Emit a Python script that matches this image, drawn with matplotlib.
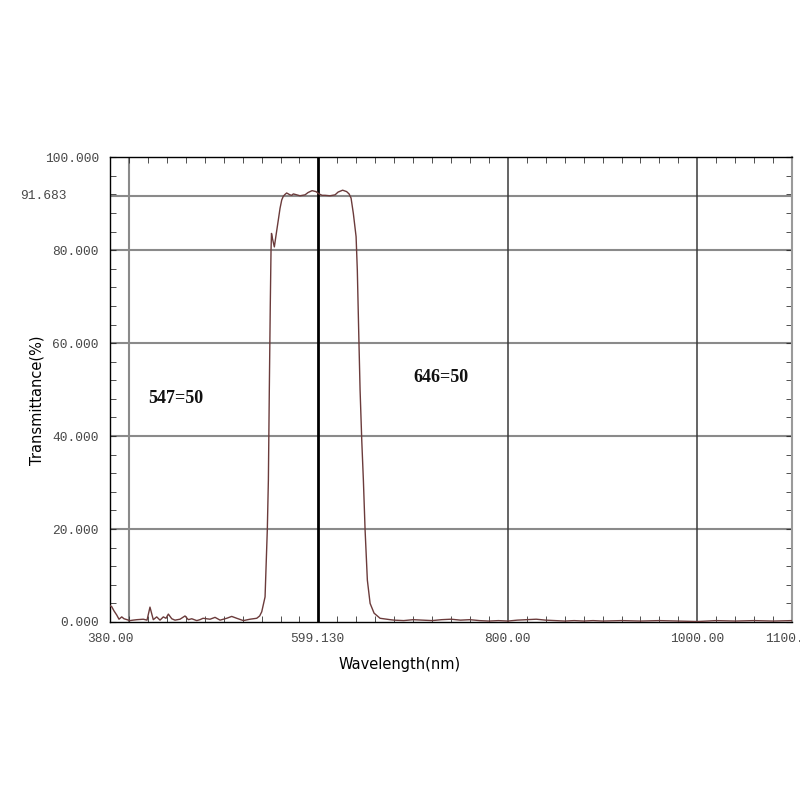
import matplotlib
matplotlib.use("Agg")
import matplotlib.pyplot as plt
import matplotlib.transforms as mtransforms
import numpy as np

# Transmission spectrum
wavelength = [
    380.0, 381.8, 384.2, 387.1, 389.5, 392.4, 394.8, 398.0, 401.1, 404.3,
    408.5, 415.2, 419.1, 422.2, 425.7, 429.3, 432.8, 436.3, 439.1, 441.6,
    445.2, 448.6, 453.9, 459.2, 462.7, 466.3, 471.6, 475.0, 478.2, 485.6,
    490.9, 496.2, 503.2, 508.5, 513.8, 520.8, 527.8, 534.9, 538.0, 540.2,
    543.7, 546.1, 547.2, 548.2, 549.2, 550.0, 550.5, 551.5, 553.5, 555.5,
    557.7, 559.5, 561.3, 563.0, 564.8, 566.5, 568.3, 570.0, 571.9, 573.5,
    575.4, 580.6, 585.9, 589.1, 593.3, 597.5, 600.7, 603.9, 607.0, 612.3,
    617.6, 620.8, 625.6, 629.8, 632.4, 634.5, 636.9, 639.8, 641.1, 642.5,
    644.0, 645.8, 647.5, 649.3, 651.7, 654.6, 658.8, 665.1, 675.7, 680.0,
    690.0, 700.0, 710.0, 720.0, 730.0, 740.0, 750.0, 760.0, 770.0, 780.0,
    790.0, 800.0, 810.0, 820.0, 830.0, 840.0, 850.0, 860.0, 870.0, 880.0,
    890.0, 900.0, 920.0, 940.0, 960.0, 980.0, 1000.0, 1020.0, 1040.0, 1060.0,
    1080.0, 1100.0,
]
transmittance = [
    3.5, 3.3, 2.4, 1.5, 0.6, 1.1, 0.7, 0.5, 0.3, 0.4,
    0.5, 0.6, 0.4, 3.2, 0.5, 1.1, 0.4, 1.1, 0.8, 1.7,
    0.7, 0.4, 0.6, 1.3, 0.5, 0.7, 0.3, 0.5, 0.8, 0.6,
    1.0, 0.4, 0.8, 1.2, 0.8, 0.3, 0.6, 0.8, 1.3, 2.2,
    5.4, 20.0, 30.5, 50.0, 68.0, 80.0, 83.6, 82.5, 80.7, 83.5,
    86.5, 89.0, 90.8, 91.6, 92.0, 92.3, 92.1, 91.9, 91.8, 92.1,
    92.0, 91.7, 91.9, 92.4, 92.8, 92.6, 92.1, 91.8, 91.8, 91.7,
    91.9, 92.5, 92.9, 92.6, 92.1, 91.2, 87.9, 82.9, 75.7, 63.0,
    50.0, 39.0, 30.5, 19.8, 9.0, 4.0, 1.9, 0.8, 0.5, 0.4,
    0.3, 0.5, 0.4, 0.3, 0.5, 0.6, 0.4, 0.5, 0.3, 0.2,
    0.3, 0.2, 0.4, 0.5, 0.6, 0.4, 0.3, 0.2, 0.3, 0.2,
    0.3, 0.2, 0.3, 0.2, 0.3, 0.2, 0.1, 0.3, 0.2, 0.3,
    0.2, 0.3,
]

x_labels = [380.0, 599.13, 800.0, 1000.0, 1100.0]
x_label_text = ["380.00", "599.130", "800.00", "1000.00", "1100.00"]
y_labels = [0, 20, 40, 60, 80, 100]
y_label_text = ["0.000", "20.000", "40.000", "60.000", "80.000", "100.000"]
peak_level = 91.683
cursor_wl = 599.13
edge_notes = [("547=50", 420, 48.0), ("646=50", 700, 52.7)]

mono = "Liberation Mono"
tick_fs = 9.3
fig = plt.figure(figsize=(8, 8), dpi=100)
ax = fig.add_axes([0.1375, 0.2225, 0.8525, 0.581])

ax.set_xlim(380, 1100)
ax.set_ylim(0, 100)

# grid lines
for yv in [20, 40, 60, 80, peak_level]:
    ax.axhline(yv, color="#8a8a8a", lw=1.5, zorder=1)
ax.axvline(400, color="#8a8a8a", lw=1.5, zorder=1)
for xv in [800, 1000]:
    ax.axvline(xv, color="#3a3a3a", lw=1.1, zorder=1)
ax.axvline(cursor_wl, color="black", lw=2.0, zorder=3)

ax.plot(wavelength, transmittance, color="#6b3b3b", lw=1.0, zorder=4)

# ticks
ax.set_xticks(x_labels, x_label_text, fontfamily=mono, fontsize=tick_fs, color="#484848")
ax.set_xticks(np.arange(400, 1100, 20), minor=True)
ax.set_yticks(y_labels, y_label_text, fontfamily=mono, fontsize=tick_fs, color="#484848")
ax.set_yticks(np.arange(4, 100, 4), minor=True)
ax.tick_params(axis="x", which="major", direction="in", length=0, pad=8)
ax.tick_params(axis="y", which="major", direction="in", length=4, pad=8,
               right=True, color="#333333")
ax.tick_params(axis="x", which="minor", direction="in", length=4,
               top=True, bottom=True, color="#333333")
ax.tick_params(axis="y", which="minor", direction="in", length=4,
               left=True, right=True, color="#333333")

for side in ["left", "top", "bottom"]:
    ax.spines[side].set_color("black")
    ax.spines[side].set_linewidth(1.0)
ax.spines["right"].set_color("#9a9a9a")
ax.spines["right"].set_linewidth(1.5)

# the peak level label sits further left than the others
trans = mtransforms.blended_transform_factory(fig.transFigure, ax.transData)
ax.text(20 / 800, peak_level, "91.683", transform=trans, ha="left", va="center",
        fontfamily=mono, fontsize=tick_fs, color="#484848", clip_on=False)

for txt, xv, yv in edge_notes:
    ax.text(xv, yv, txt, fontfamily="Liberation Serif", fontweight="bold",
            fontsize=13, ha="left", va="center", color="#111111")

fig.text(0.5, 1 - 665 / 800, "Wavelength(nm)", ha="center", va="center",
         fontsize=10.5, fontfamily="DejaVu Sans")
fig.text(37 / 800, 1 - 400 / 800, "Transmittance(%)", ha="center", va="center",
         rotation=90, fontsize=10.5, fontfamily="DejaVu Sans")

fig.savefig("out.png", dpi=100)
